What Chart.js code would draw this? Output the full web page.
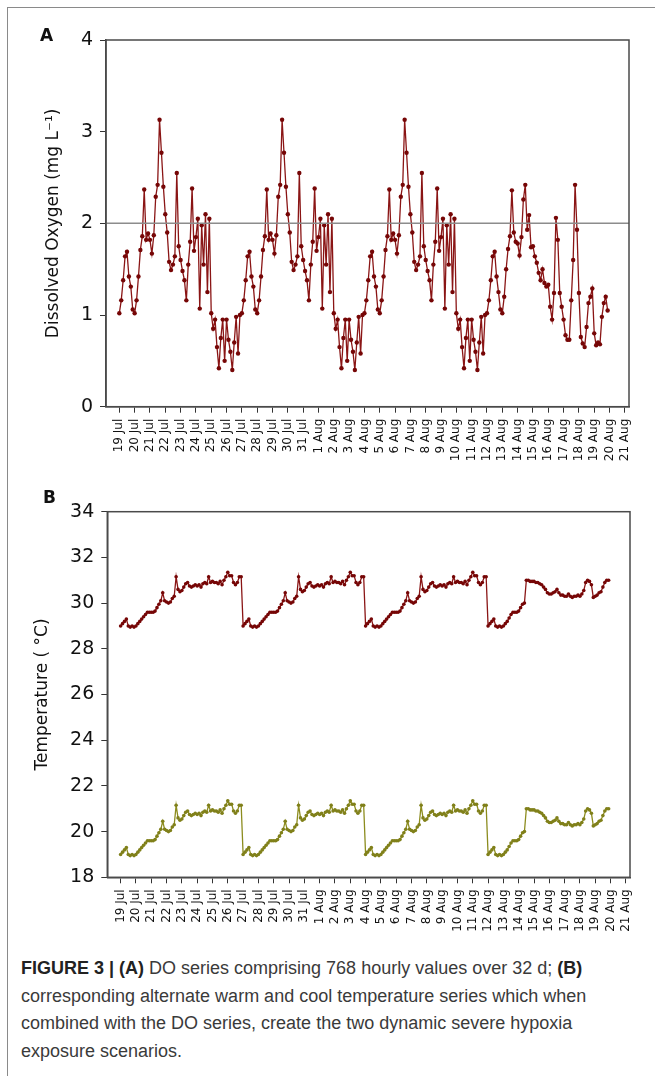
<!DOCTYPE html>
<html lang="en">
<head>
  <meta charset="UTF-8">
  <title>Figure 3 - DO and temperature series</title>
  <script src="https://cdn.jsdelivr.net/npm/chart.js"></script>
  <style>
    html, body { margin: 0; padding: 0; background: #fff; }
    body { width: 655px; height: 1076px; position: relative; overflow: hidden; }
    .frame { position: absolute; left: 7px; top: 7px; width: 660px; height: 1080px;
             border-left: 1.5px solid #8a8a8a; border-top: 1.5px solid #8a8a8a; }
    .panel { position: absolute; left: 0; width: 655px; height: 470px; }
    .letter { position: absolute; font: bold 17px "DejaVu Sans", sans-serif; color: #111; }
    .caption { position: absolute; left: 21px; top: 955px; width: 630px;
               font-family: "Liberation Sans Narrow", "Liberation Sans", sans-serif;
               font-size: 18px; line-height: 27.5px; color: #3a3a3a; }
    .caption b { color: #222; }
  </style>
</head>
<body>
  <div class="frame"></div>

  <div class="panel" style="top:0"><canvas id="doChart" width="655" height="470"></canvas></div>
  <div class="panel" style="top:470px"><canvas id="tempChart" width="655" height="470"></canvas></div>

  <div class="letter" style="left:40px; top:25px">A</div>
  <div class="letter" style="left:43px; top:487px">B</div>

  <div class="caption">
    <b>FIGURE 3 | (A)</b> DO series comprising 768 hourly values over 32 d; <b>(B)</b><br>
    corresponding alternate warm and cool temperature series which when<br>
    combined with the DO series, create the two dynamic severe hypoxia<br>
    exposure scenarios.
  </div>

  <script>
    // tick labels, one per day
    const tickLabels = [
      '19 Jul', '20 Jul', '21 Jul', '22 Jul', '23 Jul', '24 Jul', '25 Jul', '26 Jul',
      '27 Jul', '28 Jul', '29 Jul', '30 Jul', '31 Jul', '1 Aug', '2 Aug', '3 Aug',
      '4 Aug', '5 Aug', '6 Aug', '7 Aug', '8 Aug', '9 Aug', '10 Aug', '11 Aug',
      '12 Aug', '13 Aug', '14 Aug', '15 Aug', '16 Aug', '17 Aug', '18 Aug', '19 Aug',
      '20 Aug', '21 Aug'
    ];

    // values read every 3 h (8 per day), 32 days
    const stepDays = 3 / 24;

    // dissolved oxygen (mg/L)
    const doValues = [
      1.02,1.16,1.38,1.64,1.69,1.42,1.31,1.06, 1.02,1.16,1.42,1.71,1.86,2.37,1.82,1.89,
      1.82,1.67,1.87,2.29,2.42,3.13,2.77,2.40, 2.10,1.90,1.58,1.49,1.55,1.64,2.55,1.75,
      1.60,1.48,1.38,1.16,1.55,1.80,2.38,1.70, 1.85,2.05,1.07,1.98,1.55,2.10,1.25,2.05,
      1.02,0.85,0.95,0.65,0.42,0.75,0.95,0.50, 0.95,0.73,0.60,0.40,0.70,0.98,0.58,1.00,
      1.02,1.16,1.38,1.64,1.69,1.42,1.31,1.06, 1.02,1.16,1.42,1.71,1.86,2.37,1.82,1.89,
      1.82,1.67,1.87,2.29,2.42,3.13,2.77,2.40, 2.10,1.90,1.58,1.49,1.55,1.64,2.55,1.75,
      1.60,1.48,1.38,1.16,1.55,1.80,2.38,1.70, 1.85,2.05,1.07,1.98,1.55,2.10,1.25,2.05,
      1.02,0.85,0.95,0.65,0.42,0.75,0.95,0.50, 0.95,0.73,0.60,0.40,0.70,0.98,0.58,1.00,
      1.02,1.16,1.38,1.64,1.69,1.42,1.31,1.06, 1.02,1.16,1.42,1.71,1.86,2.37,1.82,1.89,
      1.82,1.67,1.87,2.29,2.42,3.13,2.77,2.40, 2.10,1.90,1.58,1.49,1.55,1.64,2.55,1.75,
      1.60,1.48,1.38,1.16,1.55,1.80,2.38,1.70, 1.85,2.05,1.07,1.98,1.55,2.10,1.25,2.05,
      1.02,0.85,0.95,0.65,0.42,0.75,0.95,0.50, 0.95,0.73,0.60,0.40,0.70,0.98,0.58,1.00,
      1.02,1.16,1.38,1.64,1.69,1.42,1.25,1.06, 1.02,1.20,1.50,1.72,1.86,2.36,1.90,1.80,
      1.78,1.65,1.85,2.26,2.42,1.93,2.09,1.74, 1.75,1.64,1.57,1.46,1.38,1.50,1.35,1.31,
      1.33,1.09,0.95,1.24,2.06,1.82,1.24,1.09, 0.95,0.78,0.73,0.73,1.16,1.60,2.42,1.93,
      1.24,0.76,0.69,0.65,0.87,1.13,1.20,1.29, 0.80,0.67,0.70,0.68,0.98,1.13,1.20,1.05
    ];
    const doThreshold = 2;

    // warm temperature series (°C)
    const warmTemps = [
      29.0,29.1,29.2,29.3,29.0,28.95,29.0,28.95, 29.0,29.1,29.2,29.3,29.4,29.5,29.6,29.6,
      29.6,29.6,29.65,29.8,29.95,30.1,30.45,30.1, 30.05,30.0,30.05,30.2,30.3,31.15,30.6,30.5,
      30.55,30.7,30.85,30.9,30.75,30.7,30.75,30.8, 30.75,30.8,30.7,30.85,30.9,30.85,31.15,30.9,
      30.95,30.9,30.9,30.85,30.95,30.8,31.0,31.15, 31.35,31.2,31.2,30.9,30.8,30.9,31.15,31.15,
      29.0,29.1,29.2,29.3,29.0,28.95,29.0,28.95, 29.0,29.1,29.2,29.3,29.4,29.5,29.6,29.6,
      29.6,29.6,29.65,29.8,29.95,30.1,30.45,30.1, 30.05,30.0,30.05,30.2,30.3,31.15,30.6,30.5,
      30.55,30.7,30.85,30.9,30.75,30.7,30.75,30.8, 30.75,30.8,30.7,30.85,30.9,30.85,31.15,30.9,
      30.95,30.9,30.9,30.85,30.95,30.8,31.0,31.15, 31.35,31.2,31.2,30.9,30.8,30.9,31.15,31.15,
      29.0,29.1,29.2,29.3,29.0,28.95,29.0,28.95, 29.0,29.1,29.2,29.3,29.4,29.5,29.6,29.6,
      29.6,29.6,29.65,29.8,29.95,30.1,30.45,30.1, 30.05,30.0,30.05,30.2,30.3,31.15,30.6,30.5,
      30.55,30.7,30.85,30.9,30.75,30.7,30.75,30.8, 30.75,30.8,30.7,30.85,30.9,30.85,31.15,30.9,
      30.95,30.9,30.9,30.85,30.95,30.8,31.0,31.15, 31.35,31.2,31.2,30.9,30.8,30.9,31.15,31.15,
      29.0,29.1,29.2,29.3,29.0,28.95,29.0,28.95, 29.0,29.1,29.2,29.35,29.5,29.6,29.6,29.6,
      29.65,29.8,29.95,30.0,31.0,31.0,30.95,30.95, 30.95,30.9,30.9,30.85,30.8,30.7,30.6,30.45,
      30.4,30.4,30.45,30.5,30.6,30.45,30.35,30.35, 30.3,30.3,30.4,30.3,30.25,30.3,30.3,30.35,
      30.3,30.4,30.55,30.9,31.0,30.95,30.8,30.25, 30.3,30.35,30.45,30.5,30.7,30.9,31.0,31.0
    ];

    // cool temperature series (°C)
    const coolTemps = [
      19.0,19.1,19.2,19.3,19.0,18.95,19.0,18.95, 19.0,19.1,19.2,19.3,19.4,19.5,19.6,19.6,
      19.6,19.6,19.65,19.8,19.95,20.1,20.45,20.1, 20.05,20.0,20.05,20.2,20.3,21.15,20.6,20.5,
      20.55,20.7,20.85,20.9,20.75,20.7,20.75,20.8, 20.75,20.8,20.7,20.85,20.9,20.85,21.15,20.9,
      20.95,20.9,20.9,20.85,20.95,20.8,21.0,21.15, 21.35,21.2,21.2,20.9,20.8,20.9,21.15,21.15,
      19.0,19.1,19.2,19.3,19.0,18.95,19.0,18.95, 19.0,19.1,19.2,19.3,19.4,19.5,19.6,19.6,
      19.6,19.6,19.65,19.8,19.95,20.1,20.45,20.1, 20.05,20.0,20.05,20.2,20.3,21.15,20.6,20.5,
      20.55,20.7,20.85,20.9,20.75,20.7,20.75,20.8, 20.75,20.8,20.7,20.85,20.9,20.85,21.15,20.9,
      20.95,20.9,20.9,20.85,20.95,20.8,21.0,21.15, 21.35,21.2,21.2,20.9,20.8,20.9,21.15,21.15,
      19.0,19.1,19.2,19.3,19.0,18.95,19.0,18.95, 19.0,19.1,19.2,19.3,19.4,19.5,19.6,19.6,
      19.6,19.6,19.65,19.8,19.95,20.1,20.45,20.1, 20.05,20.0,20.05,20.2,20.3,21.15,20.6,20.5,
      20.55,20.7,20.85,20.9,20.75,20.7,20.75,20.8, 20.75,20.8,20.7,20.85,20.9,20.85,21.15,20.9,
      20.95,20.9,20.9,20.85,20.95,20.8,21.0,21.15, 21.35,21.2,21.2,20.9,20.8,20.9,21.15,21.15,
      19.0,19.1,19.2,19.3,19.0,18.95,19.0,18.95, 19.0,19.1,19.2,19.35,19.5,19.6,19.6,19.6,
      19.65,19.8,19.95,20.0,21.0,21.0,20.95,20.95, 20.95,20.9,20.9,20.85,20.8,20.7,20.6,20.45,
      20.4,20.4,20.45,20.5,20.6,20.45,20.35,20.35, 20.3,20.3,20.4,20.3,20.25,20.3,20.3,20.35,
      20.3,20.4,20.55,20.9,21.0,20.95,20.8,20.25, 20.3,20.35,20.45,20.5,20.7,20.9,21.0,21.0
    ];

    const toPoints = vals => vals.map((v, i) => ({ x: i * stepDays, y: v }));

    // draws the box round the plot area, and an optional horizontal reference line
    const framePlugin = {
      id: 'frame',
      afterDraw(chart, args, opts) {
        const { ctx, chartArea: a } = chart;
        ctx.save();
        if (opts.refValue !== undefined) {
          const y = chart.scales.y.getPixelForValue(opts.refValue);
          ctx.strokeStyle = '#8c8c8c';
          ctx.lineWidth = 1.5;
          ctx.beginPath();
          ctx.moveTo(a.left, y);
          ctx.lineTo(a.right, y);
          ctx.stroke();
        }
        ctx.strokeStyle = '#4a4a4a';
        ctx.lineWidth = 1.5;
        ctx.strokeRect(a.left, a.top, a.right - a.left, a.bottom - a.top);
        ctx.restore();
      }
    };

    function makeOptions(cfg) {
      return {
        responsive: false,
        animation: false,
        layout: { padding: { top: cfg.top, right: cfg.right, left: 0, bottom: 0 } },
        plugins: {
          legend: { display: false },
          tooltip: { enabled: false },
          frame: { refValue: cfg.refValue }
        },
        scales: {
          x: {
            type: 'linear',
            min: -0.87,
            max: 33.27,
            afterBuildTicks: s => { s.ticks = tickLabels.map((_, i) => ({ value: i })); },
            afterFit: s => { s.height = cfg.xHeight; },
            ticks: {
              autoSkip: false,
              minRotation: 90,
              maxRotation: 90,
              padding: 6,
              color: '#111',
              font: { family: 'DejaVu Sans', size: 12 },
              callback: v => tickLabels[v]
            },
            grid: { drawOnChartArea: false, tickLength: 6, color: '#333', lineWidth: 1 },
            border: { color: '#4a4a4a', width: 1.5 }
          },
          y: {
            min: cfg.yMin,
            max: cfg.yMax,
            afterFit: s => { s.width = cfg.yWidth; },
            ticks: {
              stepSize: cfg.yStep,
              padding: 7,
              color: '#111',
              font: { family: 'DejaVu Sans', size: 19 }
            },
            grid: { drawOnChartArea: false, tickLength: 6, color: '#333', lineWidth: 1 },
            border: { color: '#4a4a4a', width: 1.5 },
            title: {
              display: true,
              text: cfg.yTitle,
              color: '#111',
              font: { family: 'DejaVu Sans', size: 17 },
              padding: { top: cfg.titlePad, bottom: 0 }
            }
          }
        }
      };
    }

    new Chart(document.getElementById('doChart'), {
      type: 'line',
      data: {
        datasets: [{
          data: toPoints(doValues),
          borderColor: '#8a1515',
          borderWidth: 1.3,
          pointRadius: 2.2,
          pointBorderWidth: 0,
          pointBackgroundColor: '#760606',
          tension: 0
        }]
      },
      options: makeOptions({
        top: 40, right: 26, xHeight: 63.3, yWidth: 106,
        yMin: 0, yMax: 4, yStep: 1, refValue: doThreshold,
        yTitle: 'Dissolved Oxygen (mg L\u207B\u00B9)', titlePad: 43
      }),
      plugins: [framePlugin]
    });

    new Chart(document.getElementById('tempChart'), {
      type: 'line',
      data: {
        datasets: [{
          label: 'Warm',
          data: toPoints(warmTemps),
          borderColor: '#8a1515',
          borderWidth: 1.3,
          pointRadius: 1.8,
          pointBorderWidth: 0,
          pointBackgroundColor: '#760606',
          tension: 0
        }, {
          label: 'Cool',
          data: toPoints(coolTemps),
          borderColor: '#8c8c1e',
          borderWidth: 1.3,
          pointRadius: 1.8,
          pointBorderWidth: 0,
          pointBackgroundColor: '#80801a',
          tension: 0
        }]
      },
      options: makeOptions({
        top: 41.7, right: 25, xHeight: 62.7, yWidth: 107.3,
        yMin: 18, yMax: 34, yStep: 2,
        yTitle: 'Temperature ( \u00B0C)', titlePad: 32
      }),
      plugins: [framePlugin]
    });
  </script>
</body>
</html>
